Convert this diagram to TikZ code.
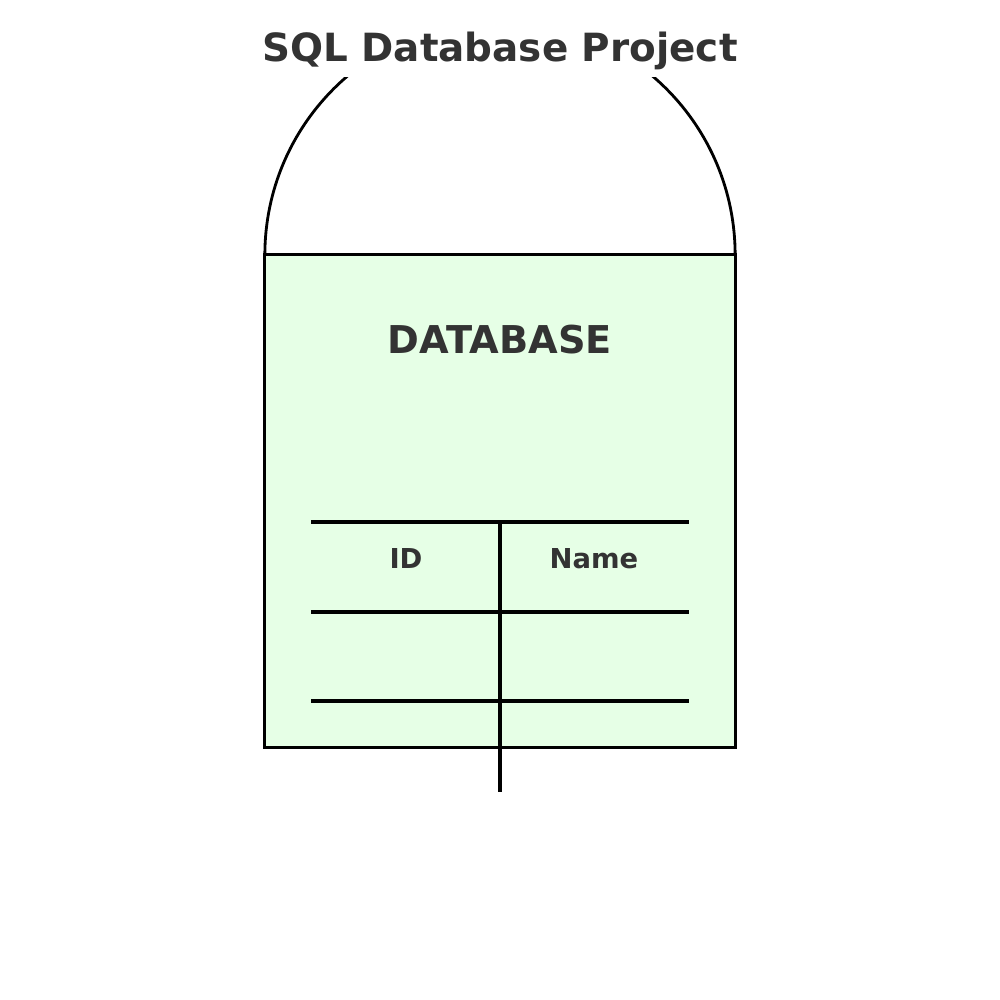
\documentclass[tikz,border=0pt]{standalone}
\usepackage{fontspec}
\setmainfont{DejaVu Sans}
\definecolor{txt}{HTML}{333333}
\definecolor{dbfill}{HTML}{E6FFE6}
\begin{document}
\begin{tikzpicture}[x=0.01cm,y=-0.01cm,
  lbl/.style={text=txt,font=\bfseries,inner sep=0pt,anchor=base},
  tabline/.style={line width=1.2pt,black},
  outline/.style={line width=0.8pt,black}]
\useasboundingbox[fill=white] (0,0) rectangle (1000,1000);
% dome
\begin{scope}
\clip (0,77) rectangle (1000,255);
\draw[outline] (500,255) circle[radius=2.35cm];
\end{scope}
% database body
\node[outline,draw,fill=dbfill,minimum width=4.7cm,minimum height=4.92cm,inner sep=0pt] (db) at (500,501) {};
% title
\node[lbl,font=\bfseries\fontsize{11.05pt}{14pt}\selectfont] (title) at (500,61) {SQL Database Project};
\node[lbl,font=\bfseries\fontsize{10.9pt}{13pt}\selectfont] (dbname) at (500,353) {DATABASE};
% table
\coordinate (h1l) at (311,522); \coordinate (h1r) at (689,522);
\coordinate (h2l) at (311,612); \coordinate (h2r) at (689,612);
\coordinate (h3l) at (311,701); \coordinate (h3r) at (689,701);
\coordinate (vt) at (500,522); \coordinate (vb) at (500,792);
\draw[tabline] (h1l) -- (h1r);
\draw[tabline] (h2l) -- (h2r);
\draw[tabline] (h3l) -- (h3r);
\draw[tabline] (vt) -- (vb);
\node[lbl,font=\bfseries\fontsize{7.8pt}{9pt}\selectfont] (id) at (406,568) {ID};
\node[lbl,font=\bfseries\fontsize{7.8pt}{9pt}\selectfont] (name) at (594,568) {Name};
\end{tikzpicture}
\end{document}
